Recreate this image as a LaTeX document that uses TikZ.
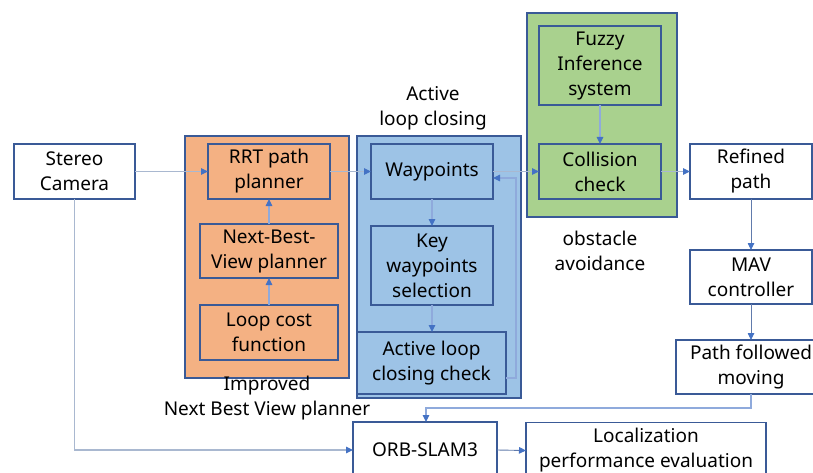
\documentclass[tikz,border=0pt]{standalone}
\usepackage{fontspec}
\setmainfont{Noto Sans}
\usetikzlibrary{arrows.meta}
\definecolor{edgeblue}{HTML}{3A5A97}
\definecolor{tipblue}{HTML}{4472C4}
\definecolor{wire}{HTML}{A9B8D0}
\definecolor{wireblue}{HTML}{8FAADC}
\definecolor{orangefill}{HTML}{F4B183}
\definecolor{bluefill}{HTML}{9DC3E6}
\definecolor{greenfill}{HTML}{A9D18E}
\tikzset{
  blk/.style={draw=edgeblue, line width=1.1pt, inner sep=0pt, outer sep=0pt,
    align=center, font=\fontsize{19}{25}\selectfont},
  group/.style={draw=edgeblue, line width=1.1pt, inner sep=0pt, outer sep=0pt},
  lbl/.style={align=center, font=\fontsize{19}{25}\selectfont, inner sep=0pt},
  sz/.style 2 args={minimum width=#1pt, minimum height=#2pt},
  flow/.style={draw=wire, line width=1.2pt,
    -{Triangle[length=7pt,width=6.5pt,color=tipblue]}},
  flowb/.style={flow, draw=wireblue},
  flowd/.style={flow, draw=edgeblue!80, line width=0.9pt},
}
\begin{document}
\begin{tikzpicture}[x=1pt,y=-1pt]
\useasboundingbox (0,0) rectangle (813,473);
\fill[white] (0,0) rectangle (813,473);

% group frames
\node[group, fill=orangefill, sz={164}{242}] (gplan) at (267,257) {};
\node[group, fill=bluefill, sz={164}{262}] (gloop) at (439,267) {};
\node[group, fill=greenfill, sz={150}{204}] (gobst) at (602,115) {};

% group captions
\node[lbl] (capplan) at (267,398) {Improved\\Next Best View planner};
\node[lbl] (caploop) at (433,108.5) {Active\\loop closing};
\node[lbl] (capobst) at (600,251) {obstacle\\avoidance};

% blocks
\node[blk, fill=white, sz={121}{55}] (stereo) at (74.5,171.5) {Stereo\\Camera};
\node[blk, fill=orangefill, sz={122}{55}] (rrt) at (269,171.5) {RRT path\\planner};
\node[blk, fill=orangefill, sz={138}{54}] (nbv) at (269,251) {Next-Best-\\View planner};
\node[blk, fill=orangefill, sz={138}{55}] (cost) at (269,332.5) {Loop cost\\function};
\node[blk, fill=bluefill, sz={122}{55}] (way) at (432,171.5) {Waypoints};
\node[blk, fill=bluefill, sz={122}{79}] (key) at (432,265.5) {Key\\waypoints\\selection};
\node[blk, fill=bluefill, sz={149}{62}] (alc) at (431.5,363) {Active loop\\closing check};
\node[blk, fill=greenfill, sz={122}{79}] (fuzzy) at (600,65.5) {Fuzzy\\Inference\\system};
\node[blk, fill=greenfill, sz={122}{55}] (coll) at (600,171.5) {Collision\\check};
\node[blk, fill=white, sz={122}{55}] (refined) at (751,171.5) {Refined\\path};
\node[blk, fill=white, sz={122}{54}] (mav) at (751,277) {MAV\\controller};
\node[blk, fill=white, sz={150}{54}] (follow) at (751,367) {Path followed\\moving};
\node[blk, fill=white, sz={144}{56}] (orb) at (425,450) {ORB-SLAM3};
\node[blk, fill=white, sz={240}{56}] (loc) at (646,450.5) {Localization\\performance evaluation};

% main path
\draw[flow] (stereo.east) -- (rrt.west);
\draw[flow] (rrt.east) -- (way.west);
\draw[flow] (way.east) -- (coll.west);
\draw[flow] (coll.east) -- (refined.west);

% inner chains
\draw[flowb] (cost.north) -- (nbv.south);
\draw[flowb] (nbv.north) -- (rrt.south);
\draw[flowb] (way.south) -- (key.north);
\draw[flowb] (key.south) -- (key.south |- alc.north);
\draw[flowb] (fuzzy.south) -- (coll.north);
\draw[flowb] ([yshift=-15pt]alc.east) -- ++(10,0) |- ([yshift=-6.5pt]way.east);

% vehicle side
\draw[flowd] (refined.south) -- (mav.north);
\draw[flowd] (mav.south) -- (follow.north);
\draw[flowb] (follow.south) -- ++(0,14) -| ([xshift=1pt]orb.north);

% localization
\draw[flow] (stereo.south) |- (orb.west);
\draw[flowd] (orb.east) -- (loc.west);
\end{tikzpicture}
\end{document}
